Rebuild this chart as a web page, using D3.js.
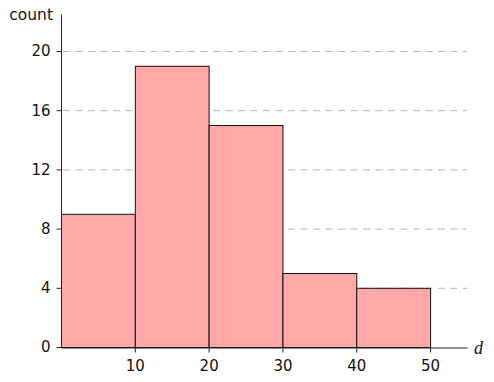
<!DOCTYPE html>
<html>
<head>
<meta charset="utf-8">
<script src="https://cdn.jsdelivr.net/npm/d3@7"></script>
<style>
  body { margin: 0; background: #fff; }
</style>
</head>
<body>
<script>
// histogram of d
var binStarts = [0, 10, 20, 30, 40];
var binWidth = 10;
var counts = [9, 19, 15, 5, 4];
var xTicks = [10, 20, 30, 40, 50];
var yTicks = [0, 4, 8, 12, 16, 20];

var width = 494, height = 382;
var x = d3.scaleLinear().domain([0, 55]).range([61, 467]);
var y = d3.scaleLinear().domain([0, 20]).range([347, 51]);

var svg = d3.select("body").append("svg")
    .attr("width", width)
    .attr("height", height)
    .style("font-family", "'DejaVu Sans', sans-serif");

// dashed grid
svg.append("g").selectAll("line")
    .data(yTicks.filter(function(d) { return d > 0; }))
    .enter().append("line")
    .attr("x1", x(0) + 2).attr("x2", x(55))
    .attr("y1", function(d) { return y(d) + 0.5; })
    .attr("y2", function(d) { return y(d) + 0.5; })
    .attr("stroke", "#b4b4b4")
    .attr("stroke-dasharray", "7,5.5");

// bars
svg.append("g").selectAll("rect")
    .data(counts)
    .enter().append("rect")
    .attr("x", function(d, i) { return x(binStarts[i]) + 0.5; })
    .attr("y", function(d) { return y(d) + 0.5; })
    .attr("width", function(d, i) { return x(binStarts[i] + binWidth) - x(binStarts[i]); })
    .attr("height", function(d) { return y(0) - y(d); })
    .attr("fill", "#ffa8a8")
    .attr("stroke", "#111")
    .attr("stroke-width", 1);

// axes
var xAxis = svg.append("g")
    .attr("transform", "translate(0," + (y(0) + 0.5) + ")")
    .call(d3.axisBottom(x).tickValues(xTicks).tickSize(5).tickSizeOuter(0).tickPadding(8));
var yAxis = svg.append("g")
    .attr("transform", "translate(" + (x(0) + 0.5) + ",0)")
    .call(d3.axisLeft(y).tickValues(yTicks).tickSize(5).tickSizeOuter(0).tickPadding(6));

[xAxis, yAxis].forEach(function(g) {
    g.attr("font-family", null).attr("font-size", null);
    g.select(".domain").attr("stroke", "#222");
    g.selectAll(".tick line").attr("stroke", "#222");
    g.selectAll(".tick text")
        .attr("font-size", 15)
        .attr("fill", "#111");
});

// extend y spine to top
yAxis.select(".domain").attr("d", "M0," + y(22.45) + "V" + y(0));

svg.append("text")
    .attr("x", 53).attr("y", 20)
    .attr("text-anchor", "end")
    .attr("font-size", 15.5)
    .attr("fill", "#111")
    .text("count");

svg.append("text")
    .attr("x", 474).attr("y", 354)
    .style("font-family", "'Liberation Serif', serif")
    .style("font-style", "italic")
    .attr("font-size", 18)
    .attr("fill", "#111")
    .text("d");
</script>
</body>
</html>
